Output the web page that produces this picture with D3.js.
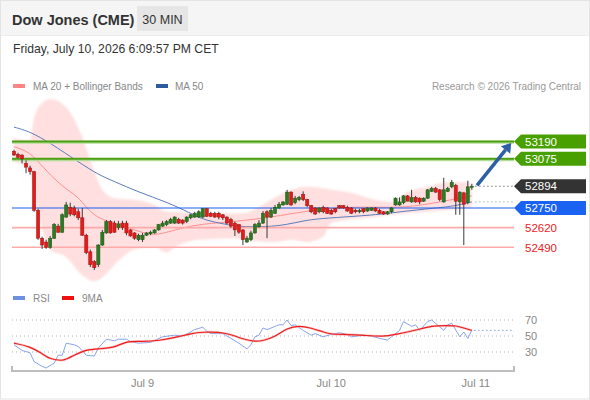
<!DOCTYPE html>
<html><head><meta charset="utf-8">
<script src="https://cdn.jsdelivr.net/npm/d3@7"></script>
<style>body{margin:0;background:#fff}svg{display:block;font-family:"Liberation Sans",Arial,sans-serif}</style>
</head><body><svg id="c" width="590" height="400"></svg>
<script>
// ---------- DATA ----------
const candleOpen = [53125,53105,53100,53045,53015,52990,52735,52550,52525,52490,
52550,52630,52590,52690,52755,52750,52725,52685,52570,52460,
52395,52375,52505,52585,52660,52650,52620,52650,52650,52605,
52585,52540,52540,52570,52580,52585,52605,52630,52640,52650,
52650,52675,52670,52660,52685,52690,52690,52690,52745,52715,
52715,52715,52705,52690,52675,52650,52640,52605,52525,52540,
52585,52625,52650,52725,52690,52715,52750,52770,52775,52855,
52785,52805,52840,52805,52765,52750,52725,52755,52750,52735,
52745,52765,52765,52755,52750,52735,52725,52745,52730,52735,
52750,52735,52725,52710,52725,52770,52770,52785,52830,52790,
52820,52815,52795,52815,52860,52880,52870,52790,52860,52890,
52900,52790,52850,52785,52890];
const candleHigh = [53135,53115,53105,53065,53030,52995,52745,52560,52540,52565,
52650,52645,52715,52790,52785,52765,52745,52750,52580,52475,
52405,52510,52605,52670,52670,52665,52665,52665,52665,52610,
52590,52580,52585,52590,52600,52610,52645,52665,52670,52685,
52695,52685,52675,52695,52710,52725,52735,52750,52750,52725,
52725,52725,52710,52695,52685,52660,52645,52610,52565,52600,
52650,52670,52730,52735,52750,52770,52790,52795,52870,52860,
52830,52830,52860,52810,52770,52755,52755,52765,52755,52745,
52750,52770,52770,52765,52755,52745,52745,52750,52755,52755,
52755,52745,52730,52730,52755,52820,52820,52835,52835,52870,
52830,52820,52820,52875,52890,52890,52875,52950,52890,52935,
52910,52860,52855,52930,52910];
const candleLow = [53095,53080,53045,52980,52970,52725,52540,52480,52480,52480,
52545,52585,52585,52685,52695,52695,52670,52565,52445,52360,
52340,52360,52500,52580,52580,52585,52605,52605,52570,52560,
52540,52530,52525,52565,52570,52580,52600,52625,52630,52645,
52645,52645,52640,52650,52675,52685,52685,52685,52690,52690,
52685,52675,52670,52645,52620,52565,52580,52505,52520,52530,
52580,52620,52645,52550,52685,52710,52745,52765,52770,52765,
52775,52795,52795,52755,52715,52705,52715,52715,52710,52705,
52715,52745,52745,52725,52710,52715,52715,52715,52725,52730,
52725,52710,52705,52705,52715,52765,52765,52775,52795,52785,
52785,52775,52790,52810,52855,52850,52795,52785,52855,52880,
52705,52705,52505,52775,52870];
const candleClose = [53100,53085,53075,53020,52990,52735,52550,52505,52490,52550,
52640,52590,52705,52770,52710,52705,52685,52570,52455,52375,
52355,52505,52590,52660,52585,52590,52645,52620,52585,52565,
52550,52570,52570,52585,52590,52605,52640,52650,52660,52675,
52690,52650,52650,52690,52705,52715,52725,52745,52695,52695,
52690,52690,52685,52650,52630,52605,52590,52540,52550,52585,
52640,52650,52715,52690,52735,52755,52775,52790,52855,52770,
52815,52820,52805,52765,52725,52710,52750,52725,52715,52710,
52725,52750,52750,52730,52715,52725,52735,52725,52750,52750,
52730,52715,52710,52725,52750,52815,52790,52830,52795,52820,
52790,52790,52815,52870,52880,52855,52805,52870,52880,52920,
52795,52855,52775,52890,52894];

const bbIdx   = [0,2,4,5,6,9,13,17,20,22,25,27,30,35,38,40,46,55,57,65,69,73,77,79,83,90,94,98,103,108,113,114];
const bbUpper = [53215,53200,53195,53345,53410,53470,53415,53220,52990,52870,52815,52810,52805,52770,52725,52725,52715,52715,52715,52820,52870,52890,52880,52870,52855,52805,52790,52855,52890,52920,52920,52900];
const bbLower = [53055,53040,53000,52850,52720,52475,52425,52305,52265,52290,52375,52425,52475,52490,52455,52490,52540,52550,52540,52525,52540,52525,52560,52650,52670,52690,52705,52715,52725,52735,52750,52755];

const ma20Idx = [0,4,7,12,16,18,21,25,30,34,37,42,47,55,63,72,76,85,94,101,109,114];
const ma20Val = [53155,53120,53025,52890,52825,52750,52680,52650,52605,52570,52580,52620,52645,52660,52685,52725,52740,52760,52750,52765,52805,52830];

const ma50Idx = [0,4,9,16,21,25,31,38,44,47,51,56,63,68,72,76,85,92,96,105,109,114];
const ma50Val = [53285,53255,53180,53055,52970,52925,52855,52790,52715,52675,52650,52625,52625,52640,52665,52680,52695,52710,52725,52750,52760,52790];

const rsiIdx = [0,2,4,5,7,8,10,11,12,13,15,16,18,20,21,23,25,26,28,29,31,34,37,40,42,44,45,47,48,49,52,54,56,58,59,60,61,62,63,64,66,67,68,69,70,72,74,75,77,79,81,83,84,87,89,91,93,94,96,97,99,100,101,103,104,107,108,109,111,112,113,114];
const rsiVal = [39,32,29,18,12,10,16,26,26,41,39,37,26,25,35,46,44,46,46,43,41,42,49,51,50,55,58,61,56,53,53,47,41,34,39,49,51,60,58,60,64,64,70,63,64,57,51,53,49,52,54,52,49,51,50,47,45,49,57,68,62,64,57,68,70,57,64,66,49,55,47,57];
const rsiMaIdx = [0,4,7,9,12,13,15,18,21,25,28,32,36,41,44,47,51,54,57,60,62,65,68,71,74,77,79,83,87,92,95,100,104,108,110,112,114];
const rsiMaVal = [41,37,28,21,19,21,26,33,34,35,44,43,44,49,53,55,55,52,46,43,44,49,60,63,60,55,52,52,51,49,52,57,63,63,63,60,57];
const rsiTicks = [70,50,30];

const resistanceLevels = [53190, 53075];
const lastPrice = 52894;
const pivotLevel = 52750;
const supportLevels = [52620, 52490];

const dateTicks = [32, 79, 115];
const dateLabels = ["Jul 9", "Jul 10", "Jul 11"];

// ---------- SCALES ----------
const svg = d3.select("#c");
const x = d3.scaleLinear().domain([-0.5, 124.5]).range([12, 514]);
const y = d3.scaleLinear().domain([52250, 53470]).range([283.6, 99.1]);
const yr = d3.scaleLinear().domain([30, 70]).range([352, 320]);
const X0 = 12, X1 = 514;

// ---------- FRAME / HEADER ----------
svg.append("rect").attr("x",0.5).attr("y",0.5).attr("width",589).attr("height",398.5)
  .attr("fill","#fff").attr("stroke","#e4e4e4");
svg.append("rect").attr("x",1).attr("y",1).attr("width",588).attr("height",34).attr("fill","#f5f5f5");
svg.append("line").attr("x1",1).attr("x2",589).attr("y1",35.5).attr("y2",35.5).attr("stroke","#ececec");
svg.append("text").attr("x",12).attr("y",24.5).attr("font-size",14.5).attr("font-weight","bold")
  .attr("fill","#333").text("Dow Jones (CME)");
svg.append("rect").attr("x",137).attr("y",6).attr("width",51).attr("height",25).attr("fill","#e6e6e6");
svg.append("text").attr("x",162.5).attr("y",23.5).attr("text-anchor","middle").attr("font-size",12.5)
  .attr("fill","#333").text("30 MIN");
svg.append("text").attr("x",13).attr("y",52.5).attr("font-size",12.2).attr("fill","#333")
  .text("Friday, July 10, 2026 6:09:57 PM CET");

// legend
svg.append("rect").attr("x",13).attr("y",84).attr("width",12).attr("height",4).attr("fill","#ff8585");
svg.append("text").attr("x",33).attr("y",89.5).attr("font-size",10).attr("fill","#888").text("MA 20 + Bollinger Bands");
svg.append("rect").attr("x",156).attr("y",84).attr("width",12).attr("height",4).attr("fill","#2f5b9e");
svg.append("text").attr("x",175).attr("y",89.5).attr("font-size",10).attr("fill","#888").text("MA 50");
svg.append("text").attr("x",581).attr("y",89.5).attr("text-anchor","end").attr("font-size",10).attr("fill","#999")
  .text("Research \u00a9 2026 Trading Central");

// ---------- PRICE PANEL ----------
const defs = svg.append("defs");
defs.append("clipPath").attr("id","pc").append("rect").attr("x",X0).attr("y",92).attr("width",X1-X0).attr("height",195);
defs.append("filter").attr("id","soft").append("feGaussianBlur").attr("stdDeviation",1.2);
const pp = svg.append("g").attr("clip-path","url(#pc)");

const band = d3.area().x((d,i)=>x(bbIdx[i])).y0((d,i)=>y(bbLower[i])).y1((d,i)=>y(bbUpper[i])).curve(d3.curveMonotoneX);
pp.append("path").datum(bbIdx).attr("d",band).attr("fill","#ffdcdc").attr("opacity",0.9).attr("filter","url(#soft)");

const ma20 = d3.line().x((d,i)=>x(ma20Idx[i])).y((d,i)=>y(ma20Val[i])).curve(d3.curveBasis);
pp.append("path").datum(ma20Idx).attr("d",ma20).attr("fill","none").attr("stroke","#ff9090").attr("stroke-width",1);
const ma50 = d3.line().x((d,i)=>x(ma50Idx[i])).y((d,i)=>y(ma50Val[i])).curve(d3.curveBasis);
pp.append("path").datum(ma50Idx).attr("d",ma50).attr("fill","none").attr("stroke","#5a7cbd").attr("stroke-width",1);

// level lines
resistanceLevels.forEach(v=>{
  svg.append("line").attr("x1",X0).attr("x2",X1).attr("y1",y(v)+0.8).attr("y2",y(v)+0.8).attr("stroke","#b3dc98").attr("stroke-width",3);
  svg.append("line").attr("x1",X0).attr("x2",X1).attr("y1",y(v)).attr("y2",y(v)).attr("stroke","#4c9e12").attr("stroke-width",2);
});
supportLevels.forEach(v=>{
  svg.append("line").attr("x1",X0).attr("x2",X1).attr("y1",y(v)).attr("y2",y(v)).attr("stroke","#ffaaaa").attr("stroke-width",1.6);
});
svg.append("line").attr("x1",X0).attr("x2",X1).attr("y1",y(pivotLevel)).attr("y2",y(pivotLevel)).attr("stroke","#1a5ff0").attr("stroke-width",1.2);

// candles
const cg = svg.append("g");
candleOpen.forEach((o,i)=>{
  const c = candleClose[i], up = c >= o;
  const cx = x(i);
  cg.append("line").attr("x1",cx).attr("x2",cx).attr("y1",y(candleHigh[i])).attr("y2",y(candleLow[i]))
    .attr("stroke","#3a3a3a").attr("stroke-width",1);
  const top = y(Math.max(o,c)), bot = y(Math.min(o,c));
  cg.append("rect").attr("x",cx-1.6).attr("y",top).attr("width",3.2).attr("height",Math.max(1.2,bot-top))
    .attr("fill", up ? "#2c7a22" : "#e41b1b").attr("stroke", up ? "#1d5516" : "#9e1212").attr("stroke-width",0.5);
});

// dotted lines to labels
const lastX = x(candleOpen.length-1)+3;
svg.append("line").attr("x1",lastX).attr("x2",X1).attr("y1",y(lastPrice)).attr("y2",y(lastPrice))
  .attr("stroke","#999").attr("stroke-dasharray","2,2");
svg.append("line").attr("x1",lastX).attr("x2",X1).attr("y1",y(ma50Val[ma50Val.length-1])).attr("y2",y(ma50Val[ma50Val.length-1]))
  .attr("stroke","#b4c0da").attr("stroke-dasharray","2,2");

// labels
function tag(v, fill){
  const yy = y(v);
  svg.append("path").attr("d",`M${X1},${yy} L${X1+7},${yy-7} L586,${yy-7} L586,${yy+7} L${X1+7},${yy+7} Z`).attr("fill",fill);
  svg.append("text").attr("x",525).attr("y",yy+4.2).attr("font-size",11.5).attr("fill","#fff").text(v);
}
resistanceLevels.forEach(v=>tag(v,"#48a000"));
tag(lastPrice,"#333333");
tag(pivotLevel,"#1a62f2");
supportLevels.forEach(v=>{
  svg.append("text").attr("x",525).attr("y",y(v)+4.2).attr("font-size",11.5).attr("fill","#f01a1a").text(v);
});

// arrow
const ax0 = x(115.3), ay0 = y(52900), ax1 = x(123.8), ay1 = y(53180);
const ang = Math.atan2(ay1-ay0, ax1-ax0);
const hb = 9, hw = 6;
const bx = ax1 - hb*Math.cos(ang), by = ay1 - hb*Math.sin(ang);
svg.append("line").attr("x1",ax0).attr("y1",ay0).attr("x2",bx).attr("y2",by).attr("stroke","#2e5fa6").attr("stroke-width",3.5);
svg.append("path").attr("d",`M${ax1},${ay1} L${bx - hw*Math.sin(ang)},${by + hw*Math.cos(ang)} L${bx + hw*Math.sin(ang)},${by - hw*Math.cos(ang)} Z`)
  .attr("fill","#2e5fa6");

// ---------- RSI PANEL ----------
svg.append("rect").attr("x",13).attr("y",296).attr("width",12).attr("height",4).attr("fill","#6f8fe2");
svg.append("text").attr("x",33).attr("y",301.5).attr("font-size",10).attr("fill","#888").text("RSI");
svg.append("rect").attr("x",62).attr("y",296).attr("width",12).attr("height",4).attr("fill","#f01010");
svg.append("text").attr("x",82).attr("y",301.5).attr("font-size",10).attr("fill","#888").text("9MA");

rsiTicks.forEach(t=>{
  svg.append("line").attr("x1",X0).attr("x2",X1).attr("y1",yr(t)).attr("y2",yr(t)).attr("stroke","#b0b0b0").attr("stroke-dasharray","1,3");
  svg.append("text").attr("x",525).attr("y",yr(t)+4).attr("font-size",11).attr("fill","#888").text(t);
});
const rsiLine = d3.line().x((d,i)=>x(rsiIdx[i])).y((d,i)=>yr(rsiVal[i]));
svg.append("path").datum(rsiIdx).attr("d",rsiLine).attr("fill","none").attr("stroke","#7c98ea").attr("stroke-width",0.9);
const rsiMaLine = d3.line().x((d,i)=>x(rsiMaIdx[i])).y((d,i)=>yr(rsiMaVal[i])).curve(d3.curveBasis);
svg.append("path").datum(rsiMaIdx).attr("d",rsiMaLine).attr("fill","none").attr("stroke","#f0a0a0").attr("stroke-width",2.4).attr("opacity",0.5);
svg.append("path").datum(rsiMaIdx).attr("d",rsiMaLine).attr("fill","none").attr("stroke","#ee1c1c").attr("stroke-width",1.2);
const lastRsi = rsiMaVal[rsiMaVal.length-1];
svg.append("line").attr("x1",x(rsiMaIdx[rsiMaIdx.length-1])+2).attr("x2",X1).attr("y1",yr(lastRsi)).attr("y2",yr(lastRsi))
  .attr("stroke","#9fb2ea").attr("stroke-dasharray","2,2");

// ---------- X AXIS ----------
svg.append("path").attr("d",`M${X0},366 V371 H${X1} V366`).attr("fill","none").attr("stroke","#bdbdbd").attr("stroke-width",2);
dateTicks.forEach((t,i)=>{
  svg.append("text").attr("x",x(t)).attr("y",387).attr("text-anchor","middle").attr("font-size",11).attr("fill","#888").text(dateLabels[i]);
});
</script></body></html>
